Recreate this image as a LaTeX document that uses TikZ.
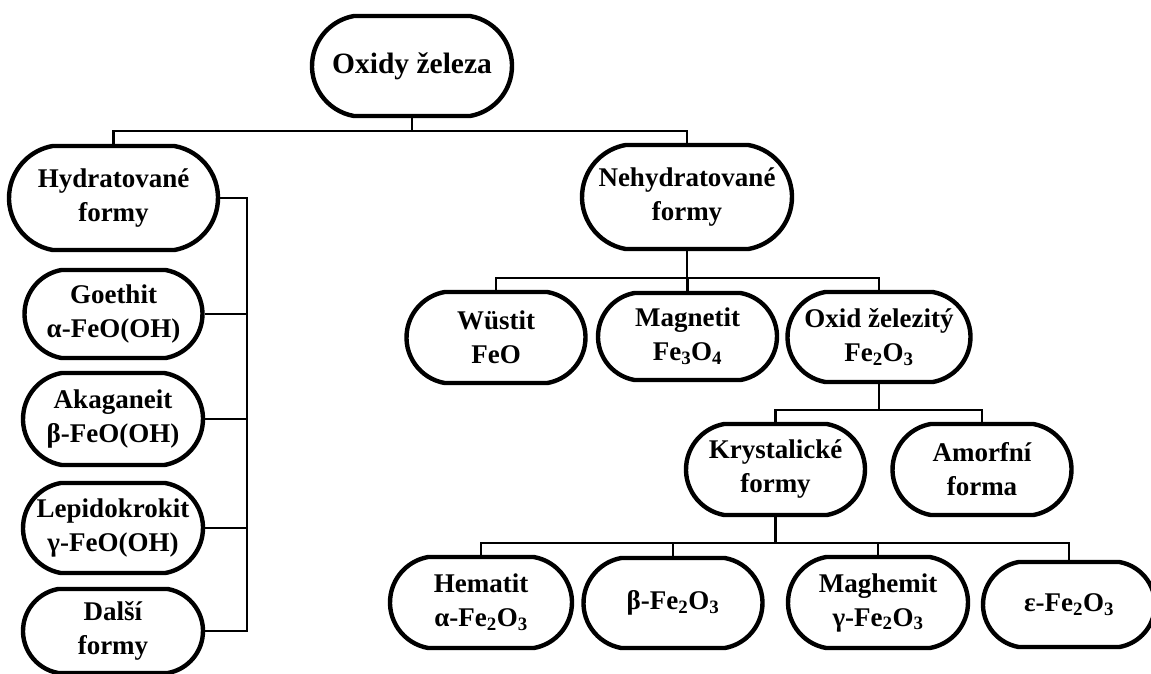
\documentclass[tikz,border=0pt]{standalone}
\usepackage{fontspec}
\setmainfont{Liberation Serif}
\usetikzlibrary{shapes.misc}
\begin{document}
\begin{tikzpicture}[x=1pt,y=-1pt,
  box/.style={draw, line width=4.4pt, rounded rectangle, rounded rectangle arc length=160, align=center, inner sep=0pt,
    font=\fontsize{27}{34}\selectfont\bfseries},
  conn/.style={line width=2.6pt}]
\useasboundingbox (0,0) rectangle (1151,673);
% nodes
\node[box, minimum width=200pt, minimum height=100pt, font=\fontsize{29.5}{34}\selectfont\bfseries] (top) at (412,66) {Oxidy železa};
\node[box, minimum width=209pt, minimum height=104pt] (hyd) at (113.5,198) {Hydratované\\formy};
\node[box, minimum width=210pt, minimum height=104pt] (neh) at (687,197) {Nehydratované\\formy};
\node[box, minimum width=178pt, minimum height=88pt] (goe) at (113.5,314) {Goethit\\α-FeO(OH)};
\node[box, minimum width=180pt, minimum height=92pt] (aka) at (113,419) {Akaganeit\\β-FeO(OH)};
\node[box, minimum width=180pt, minimum height=90pt] (lep) at (113,528) {Lepidokrokit\\γ-FeO(OH)};
\node[box, minimum width=180pt, minimum height=84pt] (dal) at (113,631) {Další\\formy};
\node[box, minimum width=179pt, minimum height=91pt] (wus) at (496,337.5) {Wüstit\\FeO};
\node[box, minimum width=179pt, minimum height=87pt] (mag) at (687.5,336.5) {Magnetit\\Fe\textsubscript{3}O\textsubscript{4}};
\node[box, minimum width=183pt, minimum height=90pt] (oxf) at (879,337) {Oxid železitý\\Fe\textsubscript{2}O\textsubscript{3}};
\node[box, minimum width=179pt, minimum height=91pt] (kry) at (775.5,469.5) {Krystalické\\formy};
\node[box, minimum width=179pt, minimum height=91pt] (amo) at (982,469.5) {Amorfní\\forma};
\node[box, minimum width=182pt, minimum height=91pt] (hem) at (481,602.5) {Hematit\\α-Fe\textsubscript{2}O\textsubscript{3}};
\node[box, minimum width=179pt, minimum height=90pt] (bet) at (673,603) {β-Fe\textsubscript{2}O\textsubscript{3}};
\node[box, minimum width=180pt, minimum height=91pt] (mgh) at (878,602.5) {Maghemit\\γ-Fe\textsubscript{2}O\textsubscript{3}};
\node[box, minimum width=172pt, minimum height=85pt] (eps) at (1069,604.5) {ε-Fe\textsubscript{2}O\textsubscript{3}};
% junction coordinates
\coordinate (j1) at (412,131);
\coordinate (sp) at (247,198);
\coordinate (j2) at (687,278);
\coordinate (j3) at (879,410);
\coordinate (j4) at (775.5,543);
% connectors
\draw[conn] (top.south) -- (j1);
\draw[conn] (hyd.north) -- (hyd.north |- j1) -- (neh.north |- j1) -- (neh.north);
\draw[conn] (hyd.east) -- (hyd.east -| sp) -- (dal.east -| sp) -- (dal.east);
\draw[conn] (goe.east) -- (goe.east -| sp);
\draw[conn] (aka.east) -- (aka.east -| sp);
\draw[conn] (lep.east) -- (lep.east -| sp);
\draw[conn] (neh.south) -- (j2);
\draw[conn] (wus.north) -- (wus.north |- j2) -- (oxf.north |- j2) -- (oxf.north);
\draw[conn] (mag.north) -- (mag.north |- j2);
\draw[conn] (oxf.south) -- (j3);
\draw[conn] (kry.north) -- (kry.north |- j3) -- (amo.north |- j3) -- (amo.north);
\draw[conn] (kry.south) -- (j4);
\draw[conn] (hem.north) -- (hem.north |- j4) -- (eps.north |- j4) -- (eps.north);
\draw[conn] (bet.north) -- (bet.north |- j4);
\draw[conn] (mgh.north) -- (mgh.north |- j4);
\end{tikzpicture}
\end{document}
